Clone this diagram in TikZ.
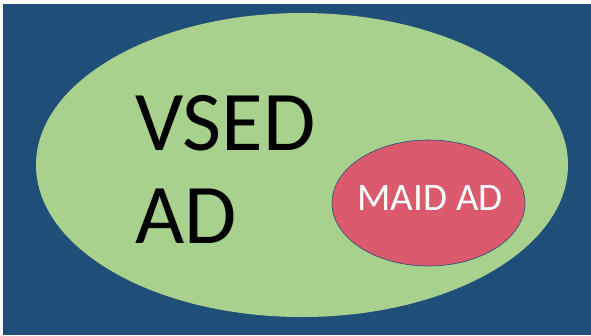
\documentclass[tikz,border=0pt]{standalone}
\usepackage{fontspec}
\setmainfont{Carlito}
\definecolor{bgblue}{HTML}{1F4E79}
\definecolor{outergreen}{HTML}{A9D18E}
\definecolor{innerpink}{HTML}{DB5A6E}
\tikzset{
  biglabel/.style={anchor=base west, inner sep=0pt, text=black, font=\fontsize{85}{93}\selectfont},
  smalllabel/.style={anchor=base, inner sep=0pt, text=white, font=\fontsize{39}{45}\selectfont}
}
\begin{document}
\begin{tikzpicture}[x=1pt,y=-1pt]
\useasboundingbox (0,0) rectangle (591,335);
\fill[white] (0,0) rectangle (591,335);
\fill[bgblue] (3,4) rectangle (591,335);
\fill[outergreen] (302,165) ellipse [x radius=266, y radius=152];
\filldraw[fill=innerpink, draw=bgblue, line width=0.6pt] (428.5,203) ellipse [x radius=96.5, y radius=63];
\node[biglabel] (vsed) at (135,150) {VSED};
\node[biglabel] (ad) at (135,243) {AD};
\node[smalllabel] (maid) at (430,210) {MAID AD};
\end{tikzpicture}
\end{document}
